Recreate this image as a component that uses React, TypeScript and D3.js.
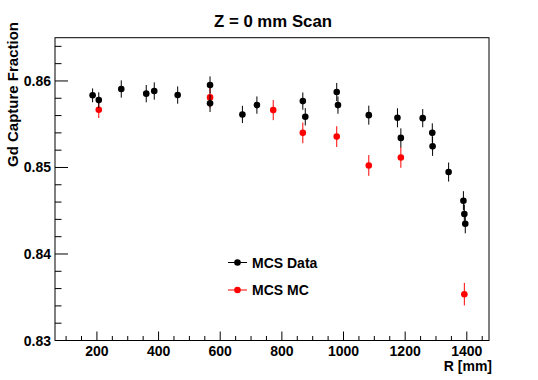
import React from "react";
import * as d3 from "d3";

const title = "Z = 0 mm Scan";
const xTitle = "R [mm]";
const yTitle = "Gd Capture Fraction";
const xTickValues = [200, 400, 600, 800, 1000, 1200, 1400];
const yTickValues = [0.83, 0.84, 0.85, 0.86];

const dataR = [186, 206, 279, 360, 386, 462, 567, 567, 672, 719, 868, 876, 978, 982, 1082, 1175, 1186, 1257, 1288, 1289, 1341, 1389, 1392, 1395];
const dataV = [0.85834, 0.85779, 0.85907, 0.85853, 0.85884, 0.85837, 0.85953, 0.85741, 0.85613, 0.85721, 0.85767, 0.85586, 0.85872, 0.85721, 0.85605, 0.85574, 0.85342, 0.8557, 0.854, 0.85244, 0.84947, 0.84616, 0.84462, 0.84349];
const dataErr = [0.0008, 0.0009, 0.001, 0.001, 0.001, 0.001, 0.001, 0.001, 0.001, 0.001, 0.001, 0.001, 0.00105, 0.001, 0.0011, 0.0011, 0.0011, 0.00105, 0.0011, 0.0011, 0.0011, 0.0011, 0.0011, 0.0011];

const mcR = [206, 567, 772, 868, 978, 1082, 1186, 1392];
const mcV = [0.85667, 0.8581, 0.85663, 0.854, 0.85357, 0.85023, 0.85116, 0.83535];
const mcErr = [0.00095, 0.0012, 0.00116, 0.0012, 0.0012, 0.0012, 0.0012, 0.0013];

const legendLabels = ["MCS Data", "MCS MC"];

const W = 538, H = 380;
const L = 55, R = 489, T = 37.7, B = 340.5;
const FONT = "'Liberation Sans', Arial, Helvetica, sans-serif";

export default function App() {
  const x = d3.scaleLinear().domain([64, 1472]).range([L, R]);
  const y = d3.scaleLinear().domain([0.83, 0.865]).range([B, T]);
  const xMinor = d3.range(100, 1472, 50).filter((v) => !xTickValues.includes(v));
  const yMinor = d3.range(0, 18).map((i) => +(0.83 + i * 0.002).toFixed(4)).filter((v) => v <= 0.865 && !yTickValues.some((t) => Math.abs(t - v) < 1e-6));
  const mr = 3.3;

  const series = [
    { r: mcR, v: mcV, e: mcErr, color: "#ff0000" },
    { r: dataR, v: dataV, e: dataErr, color: "#000000" },
  ];

  return (
    <svg width={W} height={H} style={{ position: "absolute", left: 0, top: 0, background: "#fff" }} fontFamily={FONT}>
      <rect x={0} y={0} width={W} height={H} fill="#fff" />
      <text x={273} y={27} textAnchor="middle" fontSize={16.8} fontWeight="bold">{title}</text>
      {/* frame */}
      <rect x={L} y={T} width={R - L} height={B - T} fill="none" stroke="#000" strokeWidth={1} />
      {/* x ticks */}
      {xTickValues.map((t) => (
        <g key={"xt" + t}>
          <line x1={x(t)} x2={x(t)} y1={B} y2={B - 9} stroke="#000" />
          <text x={x(t)} y={356} textAnchor="middle" fontSize={14} fontWeight="bold">{t}</text>
        </g>
      ))}
      {xMinor.map((t) => (
        <line key={"xm" + t} x1={x(t)} x2={x(t)} y1={B} y2={B - 4.5} stroke="#000" />
      ))}
      {/* y ticks */}
      {yTickValues.map((t) => (
        <g key={"yt" + t}>
          <line x1={L} x2={L + 13} y1={y(t)} y2={y(t)} stroke="#000" />
          <text x={51} y={y(t) + 5} textAnchor="end" fontSize={14} fontWeight="bold">{d3.format(".2f")(t)}</text>
        </g>
      ))}
      {yMinor.map((t) => (
        <line key={"ym" + t} x1={L} x2={L + 6.5} y1={y(t)} y2={y(t)} stroke="#000" />
      ))}
      <text x={R + 3} y={371} textAnchor="end" fontSize={14} fontWeight="bold">{xTitle}</text>
      <text transform={`translate(18, 22) rotate(-90)`} textAnchor="end" fontSize={15} fontWeight="bold">{yTitle}</text>
      {/* series */}
      {series.map((s, si) => (
        <g key={"s" + si}>
          {s.r.map((r, i) => (
            <g key={i}>
              <line x1={x(r)} x2={x(r)} y1={y(s.v[i] - s.e[i])} y2={y(s.v[i] + s.e[i])} stroke={s.color} strokeWidth={1} />
              <circle cx={x(r)} cy={y(s.v[i])} r={mr} fill={s.color} />
            </g>
          ))}
        </g>
      ))}
      {/* legend */}
      {[{ c: "#000000", yy: 262.5 }, { c: "#ff0000", yy: 290 }].map((d, i) => (
        <g key={"lg" + i}>
          <line x1={228} x2={247} y1={d.yy} y2={d.yy} stroke={d.c} />
          <circle cx={237.5} cy={d.yy} r={mr} fill={d.c} />
          <text x={252} y={d.yy + 5} fontSize={14} fontWeight="bold">{legendLabels[i]}</text>
        </g>
      ))}
    </svg>
  );
}
